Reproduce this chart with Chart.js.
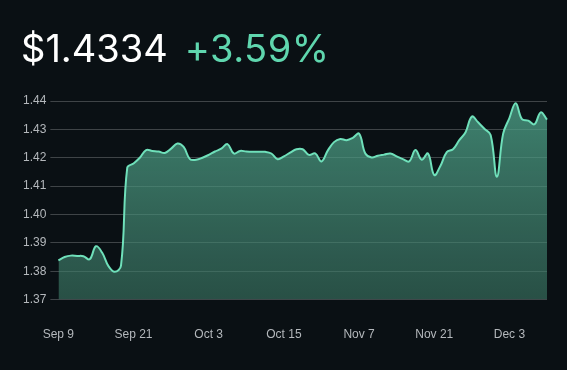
<!DOCTYPE html>
<html>
<head>
<meta charset="utf-8">
<script src="https://cdn.jsdelivr.net/npm/chart.js@4/dist/chart.umd.min.js"></script>
<style>
  html, body { margin: 0; padding: 0; background: #0a1014; }
  #wrap { position: relative; width: 567px; height: 370px; }
  #titulo { position: absolute; left: 21px; top: 23px; font-family: Inter, "Noto Sans", sans-serif; font-size: 38px; line-height: 50px; white-space: nowrap; }
  #preco { color: #ffffff; }
  #variacao { color: #5fd6ae; margin-left: 17px; letter-spacing: 0.5px; }
  canvas { position: absolute; left: 0; top: 0; }
</style>
</head>
<body>
<div id="wrap">
  <canvas id="grafico" width="567" height="370"></canvas>
  <div id="titulo"><span id="preco">$1.4334</span><span id="variacao">+3.59%</span></div>
</div>
<script>
// ================== DADOS ==================
const datas = [
  "Sep 9", "Sep 10", "Sep 11", "Sep 12", "Sep 13", "Sep 14", "Sep 15", "Sep 16", "Sep 17", "Sep 18",
  "Sep 19", "Sep 20", "Sep 21", "Sep 22", "Sep 23", "Sep 24", "Sep 25", "Sep 26", "Sep 27", "Sep 28",
  "Sep 29", "Sep 30", "Oct 1", "Oct 2", "Oct 3", "Oct 4", "Oct 5", "Oct 6", "Oct 7", "Oct 8",
  "Oct 9", "Oct 10", "Oct 11", "Oct 12", "Oct 13", "Oct 14", "Oct 15", "Oct 16", "Oct 17", "Oct 18",
  "Oct 21", "Oct 22", "Oct 23", "Oct 24", "Oct 25", "Oct 28", "Oct 30", "Nov 1", "Nov 7", "Nov 8",
  "Nov 9", "Nov 10", "Nov 11", "Nov 12", "Nov 13", "Nov 14", "Nov 15", "Nov 18", "Nov 19", "Nov 20",
  "Nov 21", "Nov 22", "Nov 23", "Nov 24", "Nov 25", "Nov 26", "Nov 27", "Nov 28", "Nov 29", "Nov 30",
  "Dec 1", "Dec 2", "Dec 3", "Dec 4", "Dec 5", "Dec 6", "Dec 7", "Dec 8", "Dec 9"
];

const precos = [
  1.3838, 1.3850, 1.3855, 1.3854, 1.3853, 1.3842, 1.3888, 1.3865, 1.3818, 1.3798,
  1.3820, 1.4165, 1.4180, 1.4200, 1.4227, 1.4224, 1.4222, 1.4217, 1.4232, 1.4250,
  1.4238, 1.4195, 1.4193, 1.4200, 1.4210, 1.4222, 1.4232, 1.4248, 1.4215, 1.4224,
  1.4222, 1.4221, 1.4221, 1.4221, 1.4215, 1.4195, 1.4205, 1.4218, 1.4230, 1.4230,
  1.4210, 1.4215, 1.4187, 1.4225, 1.4255, 1.4266, 1.4262, 1.4270, 1.4285, 1.4215,
  1.4201, 1.4207, 1.4211, 1.4215, 1.4205, 1.4195, 1.4187, 1.4227, 1.4193, 1.4215,
  1.4139, 1.4172, 1.4220, 1.4230, 1.4262, 1.4290, 1.4345, 1.4325, 1.4302, 1.4280,
  1.4133, 1.4285, 1.4340, 1.4392, 1.4336, 1.4331, 1.4318, 1.4360, 1.4334
];

const eixoY = { min: 1.37, max: 1.44, passo: 0.01 };
const intervaloRotulos = 12;

// ================== GRÁFICO ==================
const ctx = document.getElementById("grafico").getContext("2d");

function gradiente(context) {
  const area = context.chart.chartArea;
  if (!area) return "rgba(70,150,125,0.6)";
  const g = context.chart.ctx.createLinearGradient(0, area.top, 0, area.bottom);
  g.addColorStop(0, "rgba(80,166,140,0.76)");
  g.addColorStop(1, "rgba(62,123,104,0.6)");
  return g;
}

let grafico = new Chart(ctx, {
  type: "line",
  data: {
    labels: datas,
    datasets: [{
      data: precos,
      borderColor: "#6fe0ba",
      borderWidth: 2,
      backgroundColor: gradiente,
      fill: "start",
      tension: 0.4,
      pointRadius: 0
    }]
  },
  options: {
    responsive: false,
    animation: false,
    layout: { padding: { top: 101, right: 20, left: 19, bottom: 8 } },
    plugins: { legend: { display: false }, tooltip: { enabled: false } },
    scales: {
      x: {
        grid: { display: false },
        border: { display: false },
        ticks: {
          autoSkip: false,
          maxRotation: 0,
          padding: 20,
          color: "#b4b8bc",
          font: { family: "'Liberation Sans', Arial, sans-serif", size: 12 },
          callback: function (v, i) { return i % intervaloRotulos === 0 ? datas[i] : ""; }
        }
      },
      y: {
        min: eixoY.min,
        max: eixoY.max,
        border: { display: false },
        grid: { color: "rgba(255,255,255,0.22)", tickLength: 8 },
        ticks: {
          stepSize: eixoY.passo,
          padding: 4,
          color: "#b4b8bc",
          font: { family: "'Liberation Sans', Arial, sans-serif", size: 12 },
          callback: v => v.toFixed(2)
        }
      }
    }
  }
});
</script>
</body>
</html>
